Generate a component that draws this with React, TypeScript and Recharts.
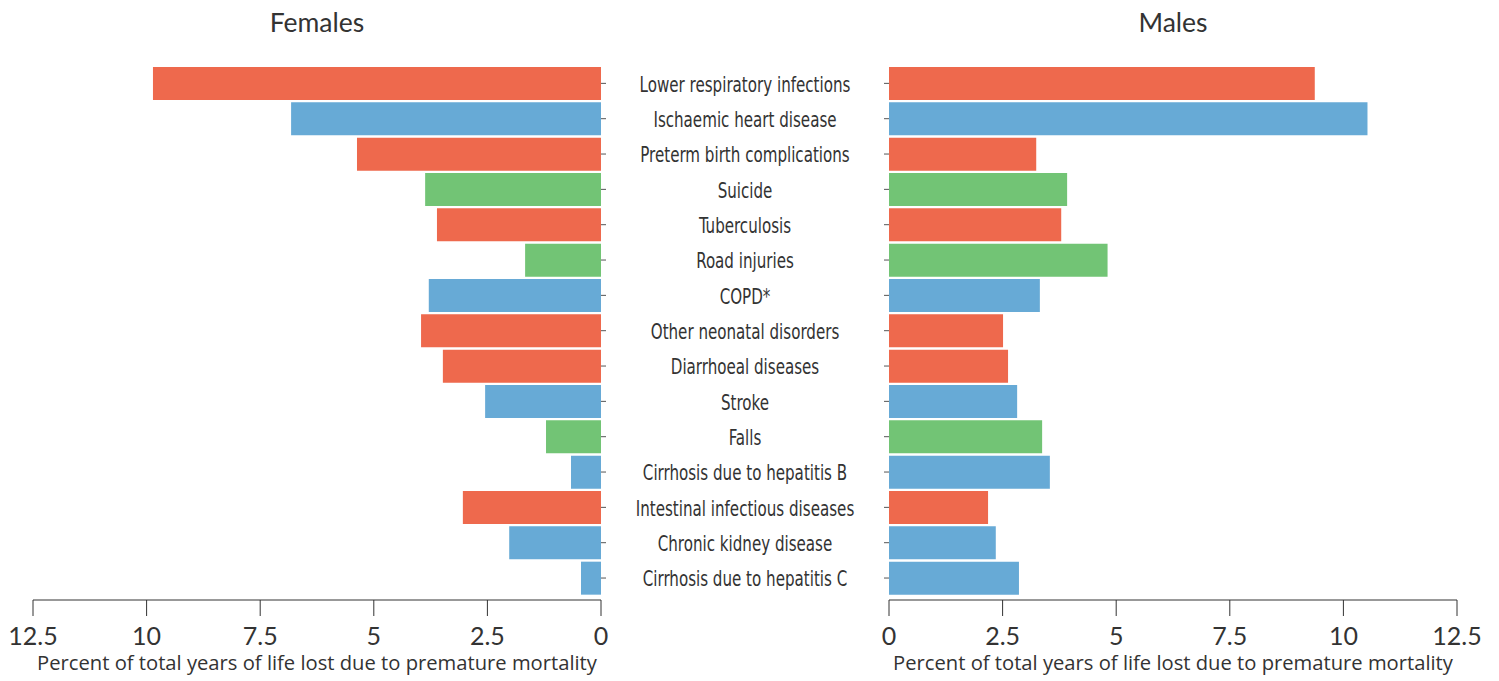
import { Bar, BarChart, Cell, XAxis, YAxis } from 'recharts'

// causes, top to bottom
const causes = [
    'Lower respiratory infections',
    'Ischaemic heart disease',
    'Preterm birth complications',
    'Suicide',
    'Tuberculosis',
    'Road injuries',
    'COPD*',
    'Other neonatal disorders',
    'Diarrhoeal diseases',
    'Stroke',
    'Falls',
    'Cirrhosis due to hepatitis B',
    'Intestinal infectious diseases',
    'Chronic kidney disease',
    'Cirrhosis due to hepatitis C',
]

// cause group: cmn = communicable/maternal/neonatal, ncd = non-communicable, inj = injuries
const groups = ['cmn', 'ncd', 'cmn', 'inj', 'cmn', 'inj', 'ncd', 'cmn', 'cmn', 'ncd', 'inj', 'ncd', 'cmn', 'ncd', 'ncd']

const females = [9.86, 6.82, 5.37, 3.87, 3.61, 1.67, 3.79, 3.96, 3.48, 2.55, 1.21, 0.66, 3.04, 2.02, 0.44]
const males = [9.37, 10.53, 3.24, 3.92, 3.79, 4.81, 3.32, 2.51, 2.62, 2.82, 3.37, 3.54, 2.18, 2.35, 2.86]

const xTicks = [0, 2.5, 5, 7.5, 10, 12.5]

const groupColors: Record<string, string> = {
    cmn: '#EE694D',
    ncd: '#67AAD6',
    inj: '#72C475',
}

const rows = causes.map((cause, i) => ({
    cause,
    group: groups[i],
    female: females[i],
    male: males[i],
}))

const axisTitle = 'Percent of total years of life lost due to premature mortality'
const TEXT = '#333'
const SANS = 'Lato, "Noto Sans", sans-serif'
const WIDE = '"Open Sans", Lato, sans-serif'
const NARROW = '"DejaVu Sans Condensed", "DejaVu Sans", sans-serif'

const TOP = 65.7
const GAP = 1.3

// label sits centred in the gap between the two charts, squeezed to look condensed
function CauseTick(props: any) {
    const { x, y, payload } = props
    return (
        <text
            transform={`translate(${x + 139},${y}) scale(0.8,1)`}
            dy="0.4em"
            textAnchor="middle"
            fill={TEXT}
            fontSize={21}
            fontFamily={NARROW}
        >
            {payload.value}
        </text>
    )
}

const NoTick = () => <g />

const xAxisProps = {
    type: 'number' as const,
    domain: [0, 12.5],
    ticks: xTicks,
    interval: 0 as const,
    allowDataOverflow: true,
    height: 81,
    tickSize: 16,
    tickMargin: 11,
    stroke: TEXT,
    tick: { fontSize: 25, fill: TEXT, fontFamily: SANS },
    label: {
        value: axisTitle,
        position: 'insideBottom' as const,
        offset: 11,
        fill: TEXT,
        fontSize: 20.2,
        fontFamily: WIDE,
    },
}

export default function App() {
    return (
        <div style={{ position: 'absolute', left: 0, top: 0, width: 1499, height: 681, background: '#fff' }}>
            <div style={{ position: 'absolute', left: 0, top: 0 }}>
                <BarChart
                    width={889}
                    height={681}
                    data={rows}
                    layout="vertical"
                    margin={{ top: TOP, right: 0, bottom: 0, left: 33 }}
                    barCategoryGap={GAP}
                >
                    <XAxis {...xAxisProps} reversed />
                    <YAxis
                        type="category"
                        dataKey="cause"
                        orientation="right"
                        width={288}
                        axisLine={false}
                        tickSize={5}
                        tickMargin={0}
                        tickLine={{ stroke: '#555' }}
                        tick={<CauseTick />}
                        interval={0}
                        padding={{ top: 0, bottom: 4.3 }}
                    />
                    <Bar dataKey="female" isAnimationActive={false}>
                        {rows.map((r) => (
                            <Cell key={r.cause} fill={groupColors[r.group]} />
                        ))}
                    </Bar>
                </BarChart>
            </div>
            <div style={{ position: 'absolute', left: 879, top: 0 }}>
                <BarChart
                    width={620}
                    height={681}
                    data={rows}
                    layout="vertical"
                    margin={{ top: TOP, right: 42, bottom: 0, left: 0 }}
                    barCategoryGap={GAP}
                >
                    <XAxis {...xAxisProps} />
                    <YAxis
                        type="category"
                        dataKey="cause"
                        width={10}
                        axisLine={false}
                        tickSize={5}
                        tickLine={{ stroke: '#555' }}
                        tick={NoTick}
                        interval={0}
                        padding={{ top: 0, bottom: 4.3 }}
                    />
                    <Bar dataKey="male" isAnimationActive={false}>
                        {rows.map((r) => (
                            <Cell key={r.cause} fill={groupColors[r.group]} />
                        ))}
                    </Bar>
                </BarChart>
            </div>
            <svg
                width={1499}
                height={681}
                style={{ position: 'absolute', left: 0, top: 0, pointerEvents: 'none' }}
            >
                <text x={317} y={31.7} textAnchor="middle" fill={TEXT} fontSize={26.5} fontFamily={SANS}>
                    Females
                </text>
                <text x={1173} y={31.7} textAnchor="middle" fill={TEXT} fontSize={26.5} fontFamily={SANS}>
                    Males
                </text>
            </svg>
        </div>
    )
}
